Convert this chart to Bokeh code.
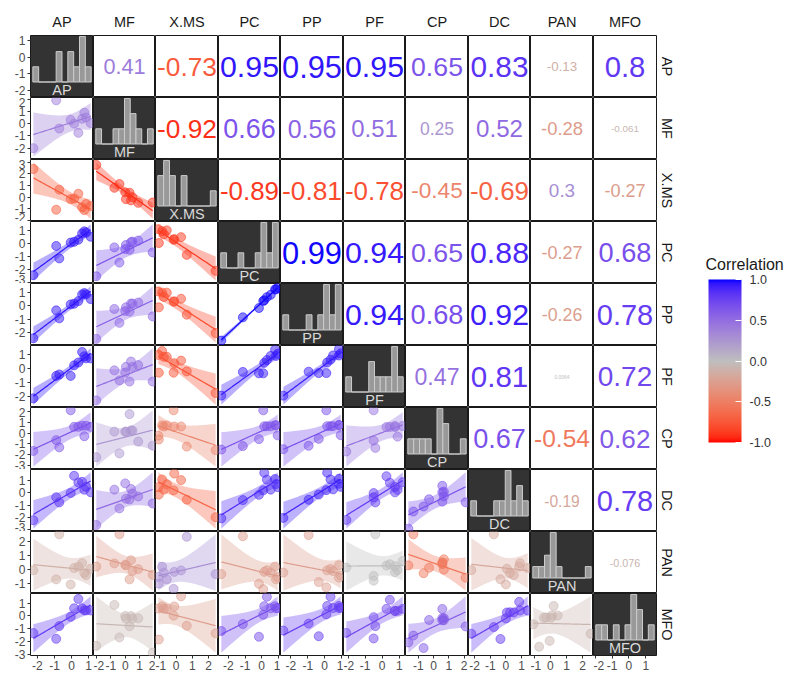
import numpy as np
from bokeh.plotting import figure
from bokeh.layouts import gridplot, row, column
from bokeh.models import (Range1d, LinearAxis, SingleIntervalTicker, Title, ColorBar, Label,
                          LinearColorMapper, FixedTicker, PrintfTickFormatter, Spacer)
from bokeh.core.properties import value
from bokeh.embed import file_html
from bokeh.resources import INLINE

# ---------------- data (standardised values, 10 observations) ----------------
names = ["AP", "MF", "X.MS", "PC", "PP", "PF", "CP", "DC", "PAN", "MFO"]

AP = [-2.24, -0.90, -0.72, -0.05, 0.15, 0.40, 0.62, 0.75, 0.85, 1.12]
MF = [-2.00, 1.90, -0.40, 0.30, 0.00, -0.75, 0.40, 0.90, 0.50, 0.05]
XMS = [2.43, -1.07, 0.65, -0.16, -0.12, 0.30, -0.87, -1.10, -0.58, -0.76]
PC = [-2.43, -0.16, -1.13, 0.10, 0.16, 0.32, 0.81, 0.97, 0.87, 0.55]
PP = [-2.45, -0.35, -0.95, 0.10, 0.15, 0.35, 0.85, 0.95, 0.85, 0.50]
PF = [-2.10, -0.50, -0.40, -0.50, 0.25, 0.45, 1.20, 0.90, 0.75, 0.75]
CP = [-1.66, -0.66, -1.33, 2.10, 0.57, 0.57, 0.67, -0.30, 0.67, 0.57]
DC = [-2.21, -0.35, -0.77, 0.00, 1.39, 0.85, 0.90, 0.26, 0.50, 0.06]
PAN = [-0.05, -0.70, 2.50, -1.06, 0.10, 0.20, 0.45, -0.25, -0.40, 0.05]
MFO = [-1.35, -1.80, -0.80, -0.07, 0.60, 1.33, 0.60, 0.45, 0.43, 0.43]

# correlations shown in the upper triangle (row variable vs. following columns)
cor_AP = [0.41, -0.73, 0.95, 0.95, 0.95, 0.65, 0.83, -0.13, 0.8]
cor_MF = [-0.92, 0.66, 0.56, 0.51, 0.25, 0.52, -0.28, -0.061]
cor_XMS = [-0.89, -0.81, -0.78, -0.45, -0.69, 0.3, -0.27]
cor_PC = [0.99, 0.94, 0.65, 0.88, -0.27, 0.68]
cor_PP = [0.94, 0.68, 0.92, -0.26, 0.78]
cor_PF = [0.47, 0.81, 0.0064, 0.72]
cor_CP = [0.67, -0.54, 0.62]
cor_DC = [-0.19, 0.78]
cor_PAN = [-0.076]

legend_ticks = [-1.0, -0.5, 0.0, 0.5, 1.0]

series = [np.array(v, dtype=float) for v in (AP, MF, XMS, PC, PP, PF, CP, DC, PAN, MFO)]
cor_rows = [cor_AP, cor_MF, cor_XMS, cor_PC, cor_PP, cor_PF, cor_CP, cor_DC, cor_PAN]
R = np.eye(10)
for i, rv in enumerate(cor_rows):
    for k, r in enumerate(rv):
        j = i + 1 + k
        R[i, j] = R[j, i] = r

# ---------------- colour scale (Lab interpolation red - grey - blue) ----------------
LOW, MID, HIGH = "#FF0000", "#BEBEBE", "#0000FF"
WHITE = np.array([0.95047, 1.0, 1.08883])


def hex_to_lab(h):
    c = np.array([int(h[k:k + 2], 16) / 255.0 for k in (1, 3, 5)])
    c = np.where(c <= 0.04045, c / 12.92, ((c + 0.055) / 1.055) ** 2.4)
    M = np.array([[0.4124, 0.3576, 0.1805], [0.2126, 0.7152, 0.0722], [0.0193, 0.1192, 0.9505]])
    xyz = M @ c / WHITE
    f = np.where(xyz > 0.008856, np.cbrt(xyz), 7.787 * xyz + 16 / 116)
    return np.array([116 * f[1] - 16, 500 * (f[0] - f[1]), 200 * (f[1] - f[2])])


def lab_to_hex(lab):
    L, a, b = lab
    fy = (L + 16) / 116
    f = np.array([fy + a / 500, fy, fy - b / 200])
    t = np.where(f ** 3 > 0.008856, f ** 3, (f - 16 / 116) / 7.787)
    xyz = t * WHITE
    Minv = np.array([[3.2406, -1.5372, -0.4986], [-0.9689, 1.8758, 0.0415], [0.0557, -0.2040, 1.0570]])
    c = Minv @ xyz
    c = np.where(c <= 0.0031308, 12.92 * c, 1.055 * np.abs(c) ** (1 / 2.4) - 0.055)
    c = np.clip(c, 0, 1)
    return "#%02X%02X%02X" % tuple(int(round(v * 255)) for v in c)


LAB_LOW, LAB_MID, LAB_HIGH = hex_to_lab(LOW), hex_to_lab(MID), hex_to_lab(HIGH)


def cor_color(r):
    t = min(abs(r), 1.0)
    end = LAB_HIGH if r >= 0 else LAB_LOW
    return lab_to_hex(LAB_MID + (end - LAB_MID) * t)


palette = [cor_color(v) for v in np.linspace(-1, 1, 256)]

# ---------------- layout helpers ----------------
FONT = "Liberation Sans"
col_w = [63, 62, 63, 62, 63, 62, 63, 62, 63, 63]
row_h = [62, 62, 62, 62, 62, 62, 62, 62, 62, 62]
T975 = 2.306  # t quantile, df = n - 2 = 8
GLYPH_EM = {"-": 0.333, ".": 0.278}  # Liberation Sans advance widths (digits 0.556)


def text_em(s):
    return sum(GLYPH_EM.get(ch, 0.556) for ch in s)


def padr(lo, hi, f=0.05):
    d = hi - lo
    return lo - f * d, hi + f * d


def style_axis(ax):
    ax.ticker = SingleIntervalTicker(interval=1, num_minor_ticks=0)
    ax.formatter = PrintfTickFormatter(format="%d")
    ax.axis_line_color = None
    ax.major_tick_line_color = "#333333"
    ax.major_tick_out = 3
    ax.major_tick_in = 0
    ax.minor_tick_line_color = None
    ax.major_label_text_font = FONT
    ax.major_label_text_font_size = "12px"
    ax.major_label_text_color = "#4D4D4D"
    ax.major_label_standoff = 2


def hist_edges(v):
    w = (v.max() - v.min()) / 9.0
    return v.min() - w / 2 + w * np.arange(11)


grid = []
for i in range(10):
    figs = []
    for j in range(10):
        p = figure(frame_width=col_w[j], frame_height=row_h[i], toolbar_location=None,
                   output_backend="svg", x_axis_type=None, y_axis_type=None,
                   min_border=0)
        p.outline_line_color = "#1A1A1A"
        p.outline_line_width = 1
        p.background_fill_color = "white"
        p.border_fill_color = "white"
        x = series[j]
        y = series[i]
        if i == j:
            edges = hist_edges(x)
            counts, _ = np.histogram(x, bins=edges)
            mc = counts.max()
            p.background_fill_color = "#333333"
            p.quad(left=edges[:-1], right=edges[1:], bottom=0, top=counts,
                   fill_color="#999999", line_color="#CCCCCC", line_width=1)
            p.x_range = Range1d(*padr(edges[0], edges[-1], 0.04))
            p.y_range = Range1d(-0.34 * mc, 1.02 * mc)
            p.text(x=[(edges[0] + edges[-1]) / 2], y=[-0.165 * mc], text=[names[i]],
                   text_align="center", text_baseline="middle", text_color="#DADADA",
                   text_font=value(FONT), text_font_size=value("14.5px"))
        elif i > j:
            r = R[i, j]
            col = cor_color(r)
            n = len(x)
            slope, icpt = np.polyfit(x, y, 1)
            resid = y - (slope * x + icpt)
            s = np.sqrt((resid ** 2).sum() / (n - 2))
            sxx = ((x - x.mean()) ** 2).sum()
            xs = np.linspace(x.min(), x.max(), 80)
            yh = slope * xs + icpt
            se = s * np.sqrt(1.0 / n + (xs - x.mean()) ** 2 / sxx)
            lo, hi = yh - T975 * se, yh + T975 * se
            p.varea(x=xs, y1=lo, y2=hi, fill_color=col, fill_alpha=0.35)
            p.line(xs, yh, line_color=col, line_width=1.2)
            p.scatter(x, y, size=9, fill_color=col, fill_alpha=0.5,
                      line_color=col, line_alpha=0.55)
            p.x_range = Range1d(*padr(x.min(), x.max()))
            p.y_range = Range1d(*padr(min(y.min(), lo.min()), max(y.max(), hi.max())))
        else:
            r = R[i, j]
            lab = f"{r:.2g}"
            p.x_range = Range1d(*padr(x.min(), x.max()))
            p.y_range = Range1d(*padr(y.min(), y.max()))
            fs = 2.5 + 30 * np.sqrt(abs(r))
            fs = min(fs, (col_w[j] - 3) / text_em(lab))
            p.text(x=[(x.min() + x.max()) / 2], y=[(y.min() + y.max()) / 2],
                   text=[lab], text_align="center", text_baseline="middle",
                   text_color=cor_color(r), text_font=value(FONT),
                   text_font_size=value(f"{fs:.1f}px"))
        if i == 9:
            ax = LinearAxis()
            style_axis(ax)
            p.add_layout(ax, "below")
        if j == 0:
            if i == 0:
                p.extra_y_ranges = {"v": Range1d(*padr(x.min(), x.max()))}
                ax = LinearAxis(y_range_name="v")
            else:
                ax = LinearAxis()
            style_axis(ax)
            p.add_layout(ax, "left")
        if i == 0:
            p.add_layout(Title(text=names[j], align="center", text_font=FONT,
                               text_font_size="14.5px", text_font_style="normal",
                               text_color="#1A1A1A", standoff=11), "above")
        if j == 9:
            p.add_layout(Title(text=names[i], align="center", text_font=FONT,
                               text_font_size="14.5px", text_font_style="normal",
                               text_color="#1A1A1A", standoff=4), "right")
        figs.append(p)
    grid.append(figs)

gp = gridplot(grid, toolbar_location=None)

# ---------------- legend (colour bar) ----------------
LEG_H = 640
leg = figure(width=108, height=LEG_H, toolbar_location=None, output_backend="svg",
             x_axis_type=None, y_axis_type=None, min_border=0,
             x_range=Range1d(0, 1), y_range=Range1d(0, 1))
leg.outline_line_color = None
mapper = LinearColorMapper(palette=palette, low=-1, high=1)
cb = ColorBar(color_mapper=mapper, ticker=FixedTicker(ticks=legend_ticks),
              formatter=PrintfTickFormatter(format="%.1f"),
              width=33, height=163, location=(30, 204), padding=0,
              major_label_text_font=FONT, major_label_text_font_size="12.5px",
              major_label_text_color="#333333", label_standoff=8,
              major_tick_line_color="white", major_tick_in=6, major_tick_out=0,
              bar_line_color=None, border_line_color=None, background_fill_color=None)
leg.add_layout(cb)
leg.add_layout(Label(x=27, y=LEG_H - 258, x_units="screen", y_units="screen",
                     text="Correlation", text_font=FONT, text_font_size="16px",
                     text_color="#1A1A1A", text_baseline="middle", text_align="left"))

layout = column(Spacer(height=6), row(Spacer(width=11), gp, leg))
open("out.html", "w").write(file_html(layout, INLINE, title="Correlation matrix"))
